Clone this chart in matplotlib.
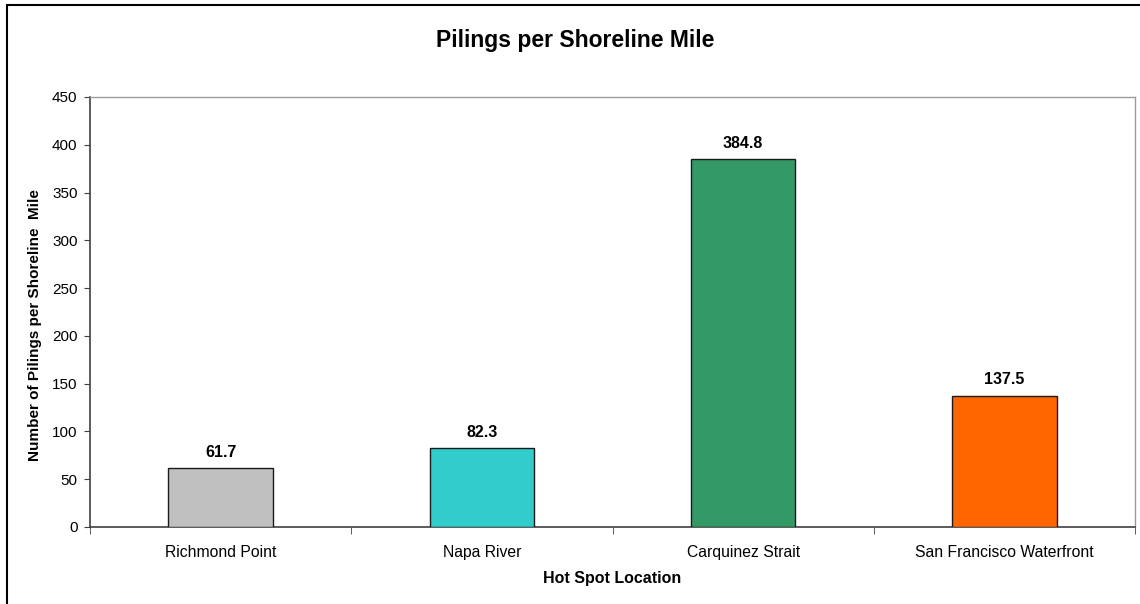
import matplotlib.pyplot as plt
from matplotlib.patches import Rectangle

# Pilings per shoreline mile at each hot spot
locations = ["Richmond Point", "Napa River", "Carquinez Strait", "San Francisco Waterfront"]
pilings_per_mile = [61.7, 82.3, 384.8, 137.5]
bar_colors = ["#C0C0C0", "#33CCCC", "#339966", "#FF6600"]
y_ticks = [0, 50, 100, 150, 200, 250, 300, 350, 400, 450]

plt.rcParams['font.family'] = ['Liberation Sans', 'DejaVu Sans']

fig = plt.figure(figsize=(11.4, 6.04), dpi=100)
ax = fig.add_axes([90 / 1140, 1 - 527 / 604, (1135 - 90) / 1140, (527 - 97) / 604])

x = list(range(len(locations)))
ax.bar(x, pilings_per_mile, width=0.4, color=bar_colors, edgecolor="#1a1a1a", linewidth=1.0, zorder=3)

for xi, v in zip(x, pilings_per_mile):
    ax.annotate(f"{v:.1f}", (xi, v), xytext=(0, 11.5), textcoords="offset points",
                ha="center", va="center", fontsize=11.5, fontweight="bold")

ax.set_xlim(-0.5, len(locations) - 0.5)
ax.set_ylim(0, 450)
ax.set_yticks(y_ticks)
ax.tick_params(axis="y", direction="out", length=4, labelsize=11, pad=5, color="#404040")

# category labels centred, tick marks on the boundaries between categories
ax.set_xticks(x)
ax.set_xticklabels(locations, fontsize=11.3)
ax.tick_params(axis="x", which="major", length=0, pad=13)
ax.set_xticks([i + 0.5 for i in range(-1, len(locations))], minor=True)
ax.tick_params(axis="x", which="minor", direction="out", length=5, color="#404040")

for side in ("left", "bottom"):
    ax.spines[side].set_color("#404040")
    ax.spines[side].set_linewidth(1.2)
for side in ("top", "right"):
    ax.spines[side].set_color("#9a9a9a")
    ax.spines[side].set_linewidth(1.0)

ax.set_xlabel("Hot Spot Location", fontsize=11.5, fontweight="bold", va="center")
ax.xaxis.set_label_coords(0.5, -(578 - 527) / 430)
ax.set_ylabel("Number of Pilings per Shoreline  Mile", fontsize=11, fontweight="bold", va="center")
ax.yaxis.set_label_coords(-(90 - 35) / 1045, (527 - 325) / 430)
fig.text(575 / 1140, 1 - 40 / 604, "Pilings per Shoreline Mile", ha="center", va="center",
         fontsize=16.5, fontweight="bold")

# outer chart frame
fig.patches.append(Rectangle((7 / 1140, -0.05), 1.1, 1 - 5 / 604 + 0.05, transform=fig.transFigure,
                             fill=False, edgecolor="black", linewidth=1.5))

fig.savefig("out.png", dpi=100)
